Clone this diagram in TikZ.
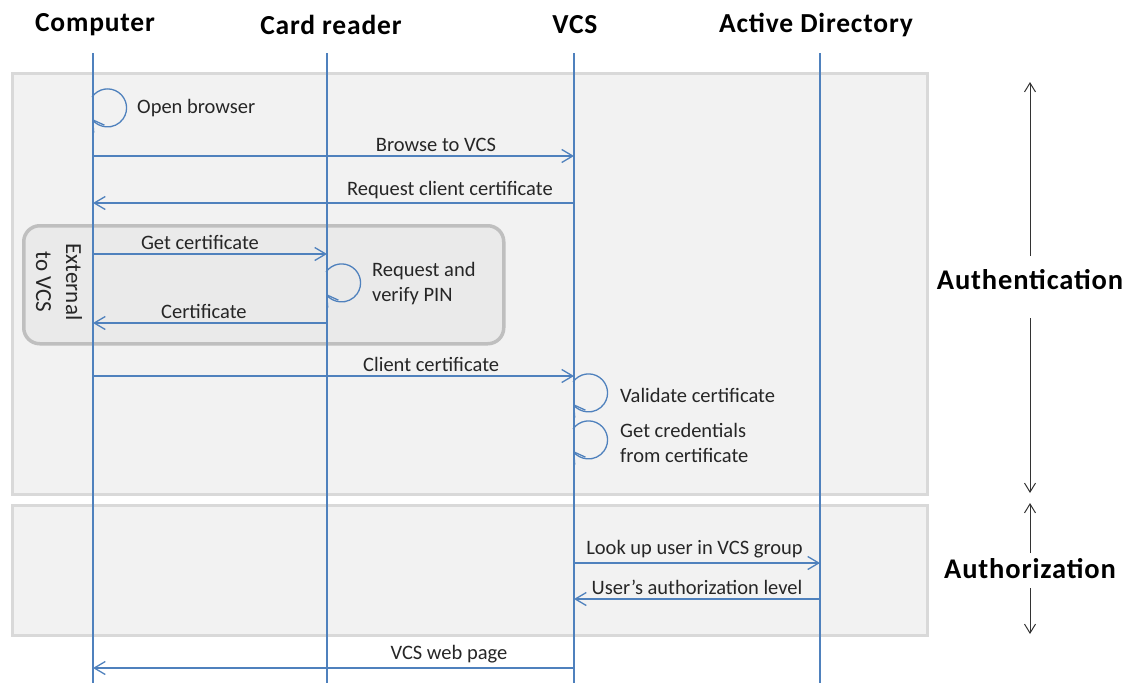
\documentclass[tikz,border=0pt]{standalone}
\usepackage{fontspec}
\setmainfont{Carlito}
\newfontfamily\hdrfont[LetterSpace=3]{Carlito}
\usetikzlibrary{arrows.meta}
\definecolor{lblue}{HTML}{4F81BD}
\definecolor{boxfill}{HTML}{F2F2F2}
\definecolor{boxline}{HTML}{D9D9D9}
\definecolor{extfill}{HTML}{EAEAEA}
\definecolor{extline}{HTML}{BFBFBF}
\begin{document}
\begin{tikzpicture}[x=1pt,y=-1pt,
  hdr/.style={font=\hdrfont\fontsize{27.5}{32}\selectfont\bfseries, inner sep=0pt},
  side/.style={font=\hdrfont\fontsize{28.5}{32}\selectfont\bfseries, inner sep=0pt},
  lab/.style={font=\fontsize{20.5}{25}\selectfont, inner sep=1pt, text=black!85},
  life/.style={draw=lblue, line width=1.3pt},
  msg/.style={draw=lblue, line width=1.3pt, -{Straight Barb[length=11pt,width=13pt,line width=1.3pt]}},
  phase/.style={draw=boxline, fill=boxfill, line width=3pt},
  ext/.style={draw=extline, fill=extfill, line width=3.5pt, rounded corners=16pt},
  bigarrow/.style={draw=black!80, line width=1pt, -{Straight Barb[length=9pt,width=11pt,line width=1pt]}}
]
\useasboundingbox (0,0) rectangle (1124,683);
% phase boxes
\node[phase, minimum width=915pt, minimum height=421pt, anchor=north west] (authbox) at (11,72) {};
\node[phase, minimum width=915pt, minimum height=130pt, anchor=north west] (authzbox) at (11,504) {};
\node[ext, minimum width=480pt, minimum height=118pt, anchor=north west] (extbox) at (22,224) {};
\node[font=\fontsize{23}{30}\selectfont, align=center, rotate=-90, text=black!85] (extlab) at (59,282) {External\\to VCS};
% headers
\node[hdr] (hcomp) at (95,25) {Computer};
\node[hdr] (hcard) at (331,25) {Card reader};
\node[hdr] (hvcs) at (575,25) {VCS};
\node[hdr] (had) at (816,25) {Active Directory};
% lifeline coordinates
\coordinate (C) at (93,53);
\coordinate (R) at (327,53);
\coordinate (V) at (574,53);
\coordinate (A) at (820,53);
\coordinate (Cb) at (93,683);
\coordinate (Rb) at (327,683);
\coordinate (Vb) at (574,683);
\coordinate (Ab) at (820,683);
\draw[life] (C) -- (Cb);
\draw[life] (R) -- (Rb);
\draw[life] (V) -- (Vb);
\draw[life] (A) -- (Ab);
% self loops
\draw[msg] ([xshift=-1pt]C |- 0,97) arc[start angle=215,end angle=505,radius=19];
\node[lab, anchor=west] (l1) at (136,108) {Open browser};
\draw[msg] ([xshift=-1pt]R |- 0,272) arc[start angle=215,end angle=505,radius=19];
\node[lab, anchor=west, align=left] (l2) at (371,284) {Request and\\verify PIN};
\draw[msg] ([xshift=-1pt]V |- 0,382) arc[start angle=215,end angle=505,radius=19];
\node[lab, anchor=west] (l3) at (619,395) {Validate certificate};
\draw[msg] ([xshift=-1pt]V |- 0,429) arc[start angle=215,end angle=505,radius=19];
\node[lab, anchor=west, align=left] (l4) at (619,443) {Get credentials\\from certificate};
% messages
\draw[msg] (C |- 0,156) -- node[lab, above=3pt, pos=0.713] {Browse to VCS} (V |- 0,156);
\draw[msg] (V |- 0,203) -- node[lab, above=3pt, pos=0.258] {Request client certificate} (C |- 0,203);
\draw[msg] (C |- 0,254) -- node[lab, above=3pt, pos=0.457] {Get certificate} (R |- 0,254);
\draw[msg] (R |- 0,323) -- node[lab, above=3pt, pos=0.526] {Certificate} (C |- 0,323);
\draw[msg] (C |- 0,376) -- node[lab, above=3pt, pos=0.703] {Client certificate} (V |- 0,376);
\draw[msg] (V |- 0,563) -- node[lab, above=3pt, pos=0.49] {Look up user in VCS group} (A |- 0,563);
\draw[msg] (A |- 0,599) -- node[lab, above=3pt, pos=0.5] {User’s authorization level} (V |- 0,599);
\draw[msg] (V |- 0,668) -- node[lab, above=3pt, pos=0.26] {VCS web page} (C |- 0,668);
% phase labels
\node[side] (auth) at (1030,280) {Authentication};
\node[side] (authz) at (1030,569) {Authorization};
\coordinate (auTop) at (1030,82);
\coordinate (auBot) at (1030,493);
\coordinate (azTop) at (1030,503);
\coordinate (azBot) at (1030,634);
\draw[bigarrow] (auth.north |- 0,256) -- (auTop);
\draw[bigarrow] (auth.south |- 0,318) -- (auBot);
\draw[bigarrow] (authz.north |- 0,553) -- (azTop);
\draw[bigarrow] (authz.south |- 0,588) -- (azBot);
\end{tikzpicture}
\end{document}
